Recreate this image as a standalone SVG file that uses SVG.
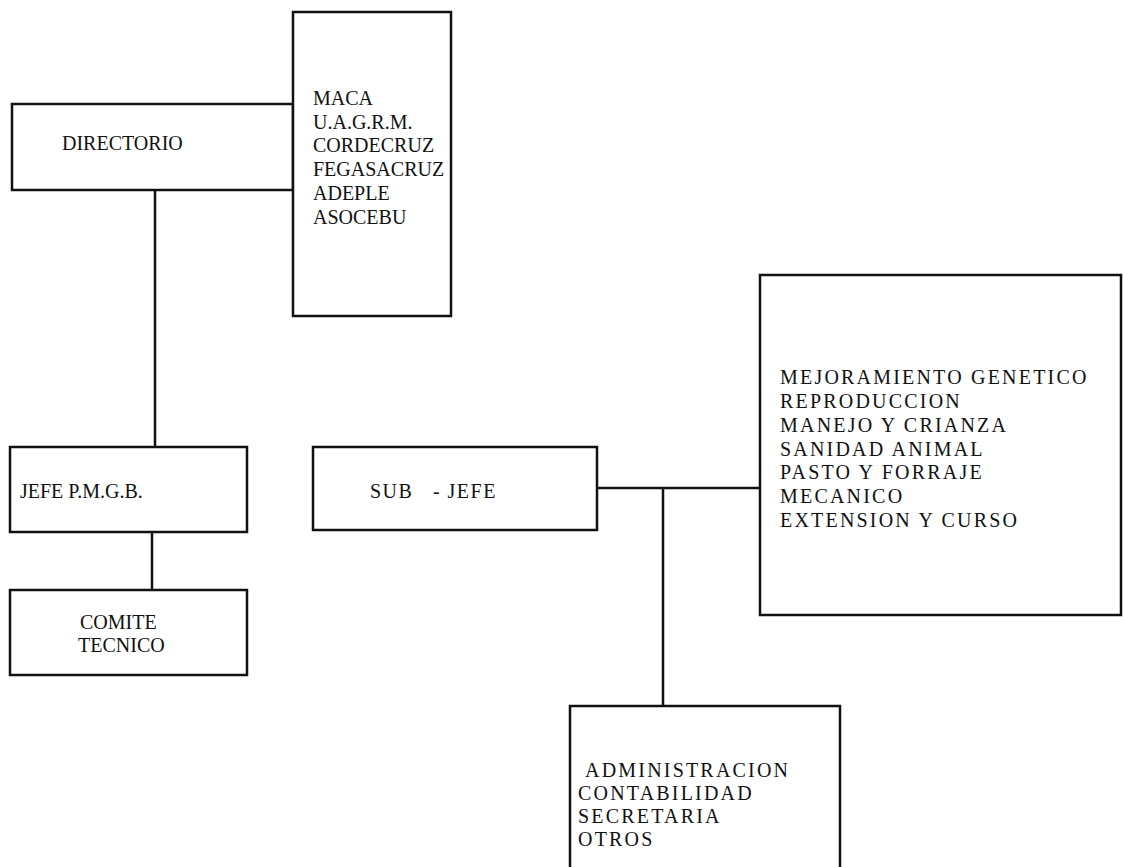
<svg xmlns="http://www.w3.org/2000/svg" width="1123" height="867" viewBox="0 0 1123 867">
<style>
.box{fill:#fff;stroke:#111;stroke-width:2.5}
.ln{stroke:#111;stroke-width:2.5;fill:none}
text{font-family:"Liberation Serif","Times New Roman",serif;font-size:20px;fill:#111}
.big{letter-spacing:2.2px}
</style>
<rect width="1123" height="867" fill="#fff"/>
<g id="connectors">
<line class="ln" x1="155" y1="190" x2="155" y2="447"/>
<line class="ln" x1="152" y1="532" x2="152" y2="590"/>
<line class="ln" x1="597" y1="488" x2="760" y2="488"/>
<line class="ln" x1="663" y1="488" x2="663" y2="706"/>
</g>
<g id="directorio">
<rect class="box" x="12" y="104" width="281" height="86"/>
<text x="62" y="150">DIRECTORIO</text>
</g>
<g id="miembros">
<rect class="box" x="293" y="12" width="158" height="304"/>
<text x="313" y="105">MACA</text>
<text x="313" y="129">U.A.G.R.M.</text>
<text x="313" y="152">CORDECRUZ</text>
<text x="313" y="176">FEGASACRUZ</text>
<text x="313" y="200">ADEPLE</text>
<text x="313" y="224">ASOCEBU</text>
</g>
<g id="jefe">
<rect class="box" x="10" y="447" width="237" height="85"/>
<text x="20" y="498">JEFE P.M.G.B.</text>
</g>
<g id="comite">
<rect class="box" x="10" y="590" width="237" height="85"/>
<text x="80" y="629">COMITE</text>
<text x="78" y="652">TECNICO</text>
</g>
<g id="subjefe">
<rect class="box" x="313" y="447" width="284" height="83"/>
<text x="370" y="498" xml:space="preserve" style="letter-spacing:1.5px">SUB   - JEFE</text>
</g>
<g id="areas">
<rect class="box" x="760" y="275" width="361" height="340"/>
<text class="big" x="780" y="384">MEJORAMIENTO GENETICO</text>
<text class="big" x="780" y="408">REPRODUCCION</text>
<text class="big" x="780" y="432">MANEJO Y CRIANZA</text>
<text class="big" x="780" y="456">SANIDAD ANIMAL</text>
<text class="big" x="780" y="479">PASTO Y FORRAJE</text>
<text class="big" x="780" y="503">MECANICO</text>
<text class="big" x="780" y="527">EXTENSION Y CURSO</text>
</g>
<g id="administracion">
<rect class="box" x="570" y="706" width="270" height="175"/>
<text class="big" x="585" y="777">ADMINISTRACION</text>
<text class="big" x="578" y="800">CONTABILIDAD</text>
<text class="big" x="578" y="823">SECRETARIA</text>
<text class="big" x="578" y="846">OTROS</text>
</g>
</svg>
